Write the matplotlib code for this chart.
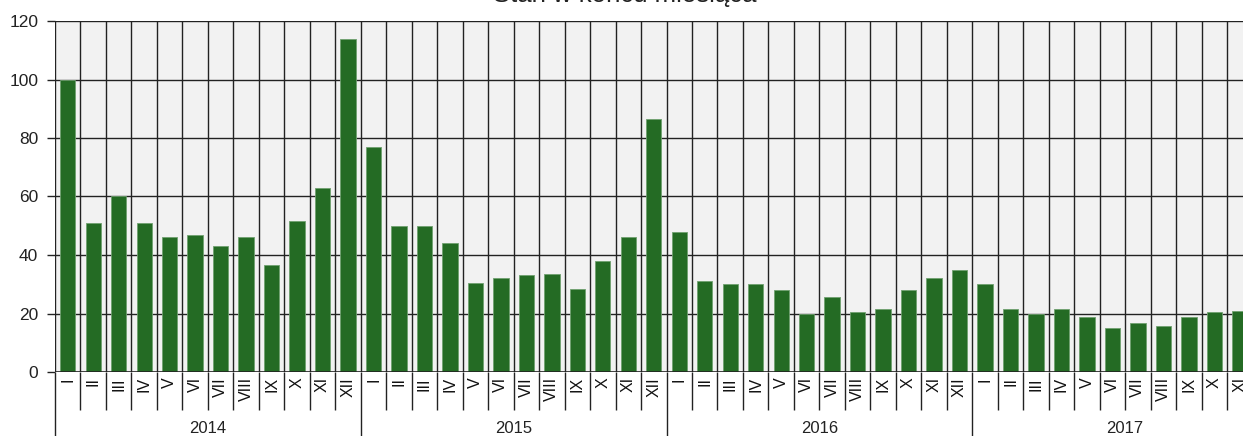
import numpy as np
import matplotlib
matplotlib.use("Agg")
import matplotlib.pyplot as plt

plt.rcParams['font.family'] = ['Liberation Sans', 'DejaVu Sans']

# data
years = ['2014', '2015', '2016', '2017']
months = ['I', 'II', 'III', 'IV', 'V', 'VI', 'VII', 'VIII', 'IX', 'X', 'XI', 'XII']
v2014 = [100, 51, 60, 51, 46, 47, 43, 46, 36.5, 51.5, 63, 114]
v2015 = [77, 50, 50, 44, 30.5, 32, 33, 33.5, 28.5, 38, 46, 86.5]
v2016 = [48, 31, 30, 30, 28, 20, 25.7, 20.5, 21.4, 28, 32, 35]
v2017 = [30, 21.7, 20, 21.4, 18.7, 15.2, 16.9, 15.6, 18.7, 20.4, 20.9]
title = 'Stan w końcu miesiąca'

values = v2014 + v2015 + v2016 + v2017
labels = (months * 4)[:len(values)]
n = len(values)

W, H = 1243, 436
fig = plt.figure(figsize=(W / 100, H / 100), dpi=100)
slot = 25.48
ax = fig.add_axes([55 / W, (H - 372) / H, n * slot / W, 351 / H])
ax.set_facecolor('#f2f2f2')

x = np.arange(n)
ax.bar(x, values, width=0.6, color='#246b24', edgecolor='#6fa06f',
       linewidth=0.6, zorder=3)

ax.set_xlim(-0.5, n - 0.5)
ax.set_ylim(0, 120)
ax.set_yticks(range(0, 121, 20))
ax.tick_params(axis='y', length=6, width=1, color='#222222',
               labelsize=12.5, labelcolor='#222222', pad=6)

# month / year boundaries drawn as ticks below the axis
bounds = np.arange(n + 1) - 0.5
year_b = [b for i, b in enumerate(bounds) if i % 12 == 0]
ax.set_xticks(year_b)
ax.set_xticks(bounds, minor=True)
ax.set_xticklabels([])
ax.tick_params(axis='x', which='major', length=46, width=1, color='#222222')
ax.tick_params(axis='x', which='minor', length=27.5, width=1, color='#222222')

for yv in range(20, 121, 20):
    ax.axhline(yv, color='#222222', lw=1, zorder=1)
for b in bounds:
    ax.axvline(b, color='#222222', lw=1, zorder=1)
for s in ax.spines.values():
    s.set_visible(False)
ax.axhline(0, color='#222222', lw=1.2, zorder=4)

tr = ax.get_xaxis_transform()
for i, lab in enumerate(labels):
    ax.text(i, -5 / 351, lab, transform=tr, rotation=90, ha='center', va='top',
            fontsize=11.5, color='#111111')
for k, yr in enumerate(years):
    ax.text(k * 12 + 5.5, -56 / 351, yr, transform=tr, ha='center', va='center',
            fontsize=12, color='#222222')

fig.text(625 / W, 1 - 2 / H, title, ha='center', va='baseline',
         fontsize=18.5, color='#222222')

fig.savefig('out.png', dpi=100)
